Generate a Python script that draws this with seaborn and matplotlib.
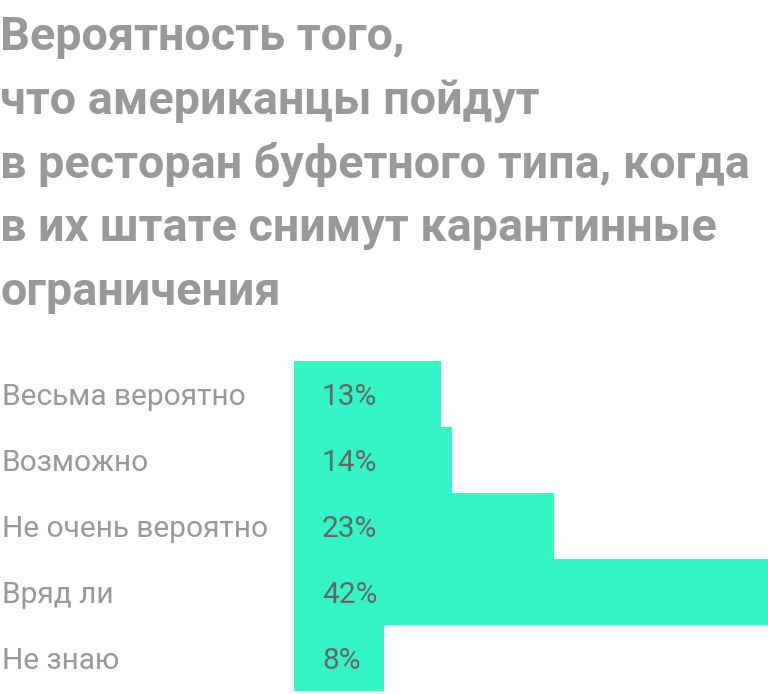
import pandas as pd
import seaborn as sns
import matplotlib.pyplot as plt

# data
answers = ['Весьма вероятно', 'Возможно', 'Не очень вероятно', 'Вряд ли', 'Не знаю']
shares = [13, 14, 23, 42, 8]
title_lines = ['Вероятность того,', 'что американцы пойдут',
               'в ресторан буфетного типа, когда',
               'в их штате снимут карантинные', 'ограничения']

df = pd.DataFrame({'answer': answers, 'share': shares})

sns.set_theme(style='white')
plt.rcParams['font.family'] = ['Roboto', 'DejaVu Sans']

W, H = 768, 694
fig = plt.figure(figsize=(W / 100, H / 100), dpi=100)
ax = fig.add_axes([294 / W, 3 / H, 1 - 294 / W, (691 - 361) / H])

sns.barplot(data=df, y='answer', x='share', orient='h', color='#33F5C6',
            width=1.0, saturation=1, linewidth=0, ax=ax)
ax.set_xlim(0, 42)
ax.set_ylim(len(answers) - 0.5, -0.5)
ax.axis('off')

for i, (a, v) in enumerate(zip(answers, shares)):
    y = 1 - (405 + 66 * i) / H
    fig.text(322 / W, y, f'{v}%', va='baseline', ha='left',
             fontsize=21.5, color='#666666')
    fig.text(2 / W, y, a, va='baseline', ha='left',
             fontsize=21.5, color='#999999')

# title
for k, line in enumerate(title_lines):
    fig.text(0, 1 - (50 + 63.8 * k) / H, line, va='baseline', ha='left',
             fontsize=33.7, fontweight='bold', color='#999999')

fig.savefig('out.png', dpi=100)
